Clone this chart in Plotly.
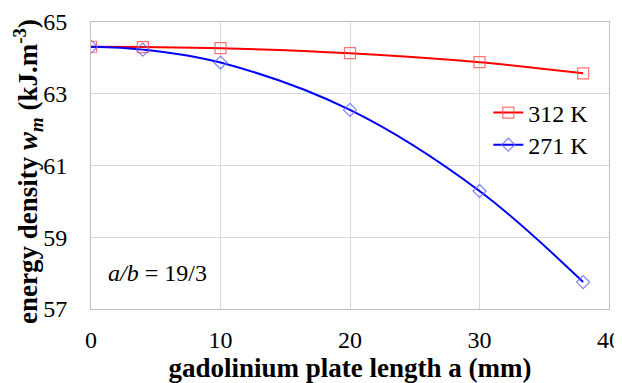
import plotly.graph_objects as go

x_vals = [0, 4, 10, 20, 30, 38]
y_312 = [64.31, 64.30, 64.27, 64.13, 63.88, 63.57]
y_271 = [64.31, 64.23, 63.87, 62.55, 60.29, 57.75]
x_ticks = [0, 10, 20, 30, 40]
y_ticks = [57, 59, 61, 63, 65]

font_family = "Liberation Serif"

fig = go.Figure()
fig.add_trace(go.Scatter(
    x=x_vals, y=y_312, name="312 K", mode="lines+markers", legend="legend",
    line=dict(color="#ff0000", width=2, shape="spline"),
    marker=dict(symbol="square-open", size=11, color="rgba(255,80,80,0.8)", line=dict(width=1.2)),
))
fig.add_trace(go.Scatter(
    x=x_vals, y=y_271, name="271 K", mode="lines+markers", legend="legend2",
    line=dict(color="#0000ff", width=2, shape="spline"),
    marker=dict(symbol="diamond-open", size=10, color="rgba(100,100,255,0.8)", line=dict(width=1.2)),
))

fig.add_annotation(
    x=1.12, y=58.0, xref="x", yref="y", xanchor="left", yanchor="middle",
    text="<i>a/b</i> = 19/3", showarrow=False,
    font=dict(family=font_family, size=24, color="black"),
)
fig.add_annotation(
    x=-0.122, y=0.48, xref="paper", yref="paper", xanchor="center", yanchor="middle",
    textangle=-90, showarrow=False,
    text="<b>energy density <i>w<sub>m</sub></i> (kJ.m<sup>-3</sup>)</b>",
    font=dict(family=font_family, size=27, color="black"),
)

leg_common = dict(xanchor="left", yanchor="middle", bgcolor="rgba(0,0,0,0)",
                  font=dict(family=font_family, size=24), itemwidth=30)

fig.update_layout(
    width=614, height=375,
    margin=dict(l=83, r=13, t=14, b=74),
    paper_bgcolor="white", plot_bgcolor="white",
    font=dict(family=font_family, size=24, color="black"),
    showlegend=True,
    legend=dict(x=0.767, y=0.683, **leg_common),
    legend2=dict(x=0.767, y=0.571, **leg_common),
)
fig.update_xaxes(
    range=[0, 40], tickvals=x_ticks, showgrid=True, gridcolor="#d9d9d9", gridwidth=1,
    showline=True, linecolor="#bfbfbf", mirror=True, zeroline=False, ticks="",
    automargin=False, ticklabelstandoff=9,
    title=dict(text="<b>gadolinium plate length a (mm)</b>", font=dict(family=font_family, size=27), standoff=4),
    tickfont=dict(family=font_family, size=24),
)
fig.update_yaxes(
    range=[57, 65], tickvals=y_ticks, showgrid=True, gridcolor="#d9d9d9", gridwidth=1,
    showline=True, linecolor="#bfbfbf", mirror=True, zeroline=False, ticks="",
    automargin=False, ticklabelstandoff=18,
    tickfont=dict(family=font_family, size=24),
)

fig.write_html("out.html")
